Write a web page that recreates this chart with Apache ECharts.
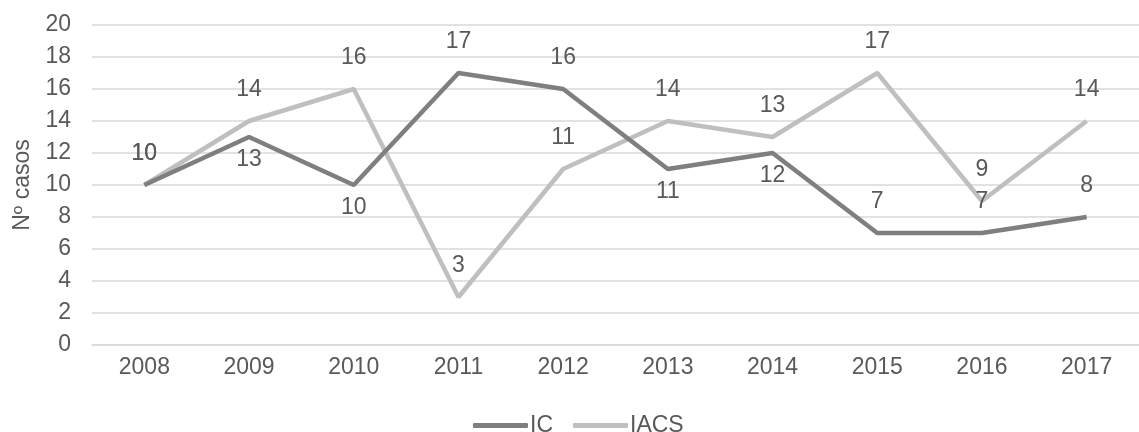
<!DOCTYPE html>
<html>
<head>
<meta charset="utf-8">
<script src="https://cdn.jsdelivr.net/npm/echarts@6/dist/echarts.min.js"></script>
<style>
  html, body { margin: 0; padding: 0; background: #fff; }
  #chart { width: 1139px; height: 432px; }
</style>
</head>
<body>
<div id="chart"></div>
<script>
const years = ['2008', '2009', '2010', '2011', '2012', '2013', '2014', '2015', '2016', '2017'];
const icValues = [10, 13, 10, 17, 16, 11, 12, 7, 7, 8];
const iacsValues = [10, 14, 16, 3, 11, 14, 13, 17, 9, 14];
// where each IC label sits relative to its point
const icLabelPos = ['top', 'bottom', 'bottom', 'top', 'top', 'bottom', 'bottom', 'top', 'top', 'top'];

const textColor = '#595959';
const fontSize = 23;

function withLabels(values, positions) {
    return values.map((v, i) => {
        const pos = positions ? positions[i] : 'top';
        return {
            value: v,
            label: { position: pos, distance: pos === 'top' ? 20 : 11 }
        };
    });
}

const chart = echarts.init(document.getElementById('chart'));

const option = {
    backgroundColor: '#fff',
    animation: false,
    textStyle: { fontFamily: 'Liberation Sans, Arial, sans-serif' },
    grid: {
        left: 92,
        right: -14,
        top: 25,
        bottom: 87
    },
    legend: {
        bottom: -10,
        left: 468,
        padding: [5, 5, 5, 5],
        itemWidth: 55,
        itemHeight: 5,
        itemGap: 20,
        icon: 'roundRect',
        textStyle: { color: textColor, fontSize: fontSize, padding: [0, 0, 0, -3] },
        data: ['IC', 'IACS']
    },
    xAxis: {
        type: 'category',
        data: years,
        axisLine: { lineStyle: { color: '#d9d9d9', width: 1.5 } },
        axisTick: { show: false },
        axisLabel: { color: textColor, fontSize: fontSize, margin: 11 }
    },
    yAxis: {
        type: 'value',
        min: 0,
        max: 20,
        interval: 2,
        name: 'Nº casos',
        nameLocation: 'middle',
        nameGap: 58,
        nameRotate: 90,
        nameTextStyle: { color: textColor, fontSize: fontSize },
        axisLine: { show: false },
        axisTick: { show: false },
        axisLabel: { color: textColor, fontSize: fontSize, margin: 21 },
        splitLine: { lineStyle: { color: '#d9d9d9', width: 1.5 } }
    },
    series: [
        {
            name: 'IC',
            type: 'line',
            data: withLabels(icValues, icLabelPos),
            symbol: 'circle',
            symbolSize: 0,
            lineStyle: { color: '#7f7f7f', width: 4.5 },
            itemStyle: { color: '#7f7f7f' },
            label: { show: true, color: textColor, fontSize: fontSize },
            z: 3
        },
        {
            name: 'IACS',
            type: 'line',
            data: withLabels(iacsValues),
            symbol: 'circle',
            symbolSize: 0,
            lineStyle: { color: '#bfbfbf', width: 4.5 },
            itemStyle: { color: '#bfbfbf' },
            label: { show: true, color: textColor, fontSize: fontSize },
            z: 2
        }
    ]
};

chart.setOption(option);
</script>
</body>
</html>
